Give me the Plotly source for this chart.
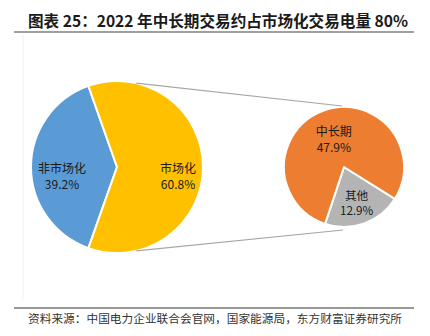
import math
import plotly.graph_objects as go

# Share of market-based trading in total traded electricity, 2022 (%)
main_labels = ["非市场化", "市场化"]
main_values = [39.2, 60.8]
main_colors = ["#5B9BD5", "#FFC000"]

# Breakdown of the market-based share (% of total traded electricity)
sub_labels = ["其他", "中长期"]
sub_values = [12.9, 47.9]
sub_colors = ["#B4B4B4", "#ED7D31"]

title_text = "图表 25：2022 年中长期交易约占市场化交易电量 80%"
source_text = "资料来源：中国电力企业联合会官网，国家能源局，东方财富证券研究所"

W, H = 430, 336
LABEL_FONT = dict(family="Noto Sans CJK SC", size=12, color="#1a1a1a")


def px(x):
    return x / W


def py(y):
    return 1 - y / H


# pie geometry in pixels: centre and radius
main_c, main_r = (117, 167), 86
sub_c, sub_r = (344, 167), 60

# start angle chosen so the non-market slice is centred at 9 o'clock
main_share0 = main_values[0] / sum(main_values)
main_rot = 270 - 180 * main_share0 - 360

fig = go.Figure()

fig.add_trace(go.Pie(
    labels=main_labels,
    values=main_values,
    sort=False,
    direction="clockwise",
    rotation=main_rot,
    marker=dict(colors=main_colors, line=dict(color="white", width=2)),
    textinfo="none",
    domain=dict(x=[px(main_c[0] - main_r), px(main_c[0] + main_r)],
                y=[py(main_c[1] + main_r), py(main_c[1] - main_r)]),
    showlegend=False,
    hoverinfo="label+value",
))

fig.add_trace(go.Pie(
    labels=sub_labels,
    values=sub_values,
    sort=False,
    direction="clockwise",
    rotation=122,
    marker=dict(colors=sub_colors, line=dict(color="white", width=2)),
    texttemplate="%{label}<br>%{value:.1f}%",
    textposition="inside",
    insidetextorientation="horizontal",
    textfont=LABEL_FONT,
    domain=dict(x=[px(sub_c[0] - sub_r), px(sub_c[0] + sub_r)],
                y=[py(sub_c[1] + sub_r), py(sub_c[1] - sub_r)]),
    showlegend=False,
    hoverinfo="label+value",
))

annotations = []
# main-pie slice labels, placed along each slice's mid-angle
start = 90 - main_rot  # math angle (deg) where the first slice begins
total = sum(main_values)
for lab, val, rfrac in zip(main_labels, main_values, (0.64, 0.71)):
    sweep = 360 * val / total
    mid = start - sweep / 2
    start -= sweep
    lx = main_c[0] + main_r * rfrac * math.cos(math.radians(mid))
    ly = main_c[1] - main_r * rfrac * math.sin(math.radians(mid)) + 8
    annotations.append(dict(text=f"{lab}<br>{val:.1f}%", xref="paper", yref="paper",
                            x=px(lx), y=py(ly), xanchor="center", yanchor="middle",
                            showarrow=False, font=LABEL_FONT))

annotations += [
    dict(text=f"<b>{title_text}</b>", xref="paper", yref="paper",
         x=px(26), y=py(20), xanchor="left", yanchor="middle",
         showarrow=False,
         font=dict(family="Noto Sans CJK SC", size=15.6, color="#1a1a1a")),
    dict(text=source_text, xref="paper", yref="paper",
         x=px(26), y=py(317), xanchor="left", yanchor="middle",
         showarrow=False,
         font=dict(family="Noto Sans CJK SC", size=11.7, color="#333333")),
]

shapes = []
# connector lines from the main pie to the breakdown pie
for ang, end in ((77, (342, 106)), (-77, (343, 230))):
    x0 = main_c[0] + main_r * math.cos(math.radians(ang))
    y0 = main_c[1] - main_r * math.sin(math.radians(ang))
    shapes.append(dict(type="line", xref="paper", yref="paper",
                       x0=px(x0), y0=py(y0), x1=px(end[0]), y1=py(end[1]),
                       line=dict(color="#A6A6A6", width=1.2)))
# rule below the title and above the source note
shapes.append(dict(type="line", xref="paper", yref="paper",
                   x0=px(14), x1=px(414), y0=py(32), y1=py(32),
                   line=dict(color="#7F7F7F", width=1.5)))
shapes.append(dict(type="line", xref="paper", yref="paper",
                   x0=px(14), x1=px(414), y0=py(308), y1=py(308),
                   line=dict(color="#333333", width=1)))
# faint chart-area edge
shapes.append(dict(type="line", xref="paper", yref="paper",
                   x0=px(23), x1=px(23), y0=py(34), y1=py(300),
                   line=dict(color="#F0F0F0", width=1)))

fig.update_layout(
    width=W, height=H,
    margin=dict(l=0, r=0, t=0, b=0),
    paper_bgcolor="white",
    plot_bgcolor="white",
    shapes=shapes,
    annotations=annotations,
)

fig.write_html("out.html")
